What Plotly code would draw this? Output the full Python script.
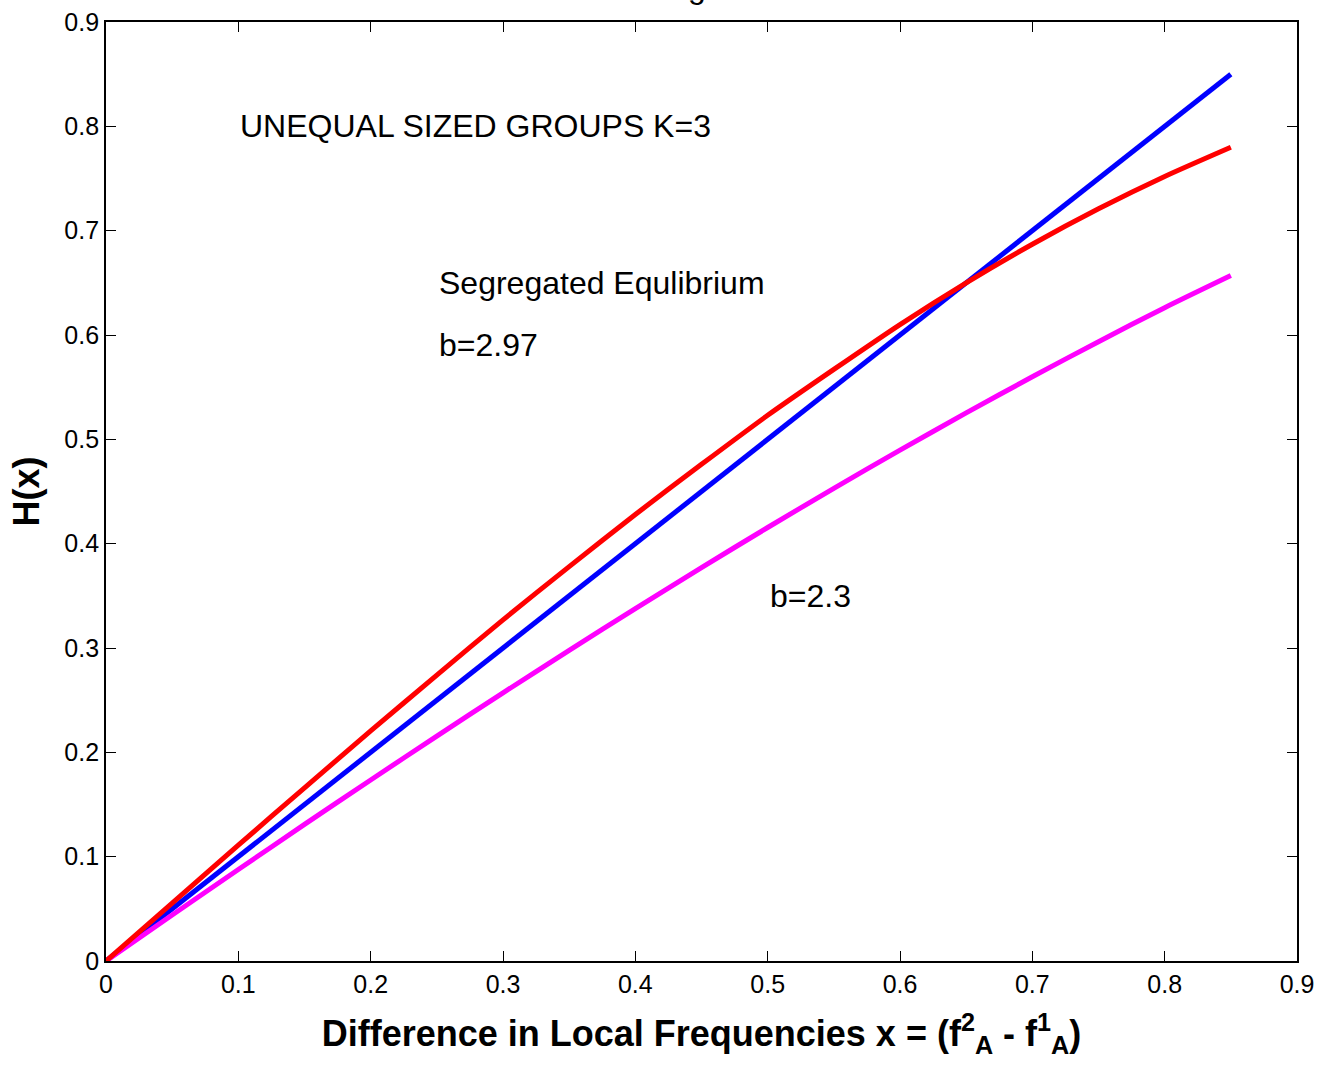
import plotly.graph_objects as go

# x grid (difference in local frequencies)
x_vals = [0, 0.05, 0.1, 0.15, 0.2, 0.25, 0.3, 0.35, 0.4, 0.45, 0.5, 0.55, 0.6, 0.65, 0.7, 0.75, 0.8, 0.85]
# 45-degree line H(x) = x
blue_x = [0, 0.85]
blue_y = [0, 0.85]
# b = 2.97 (segregated equilibrium)
red_y = [0, 0.0555, 0.111, 0.166, 0.2205, 0.274, 0.327, 0.378, 0.428, 0.476, 0.523, 0.567, 0.610, 0.650, 0.687, 0.721, 0.752, 0.780]
# b = 2.3
magenta_y = [0, 0.0441, 0.0877, 0.1309, 0.1735, 0.2156, 0.2570, 0.2978, 0.3378, 0.3771, 0.4155, 0.4530, 0.4897, 0.5253, 0.5600, 0.5936, 0.6262, 0.657]

tick_vals = [0, 0.1, 0.2, 0.3, 0.4, 0.5, 0.6, 0.7, 0.8, 0.9]
tick_text = ["0", "0.1", "0.2", "0.3", "0.4", "0.5", "0.6", "0.7", "0.8", "0.9"]

font_family = "Liberation Sans, Arial, Helvetica, sans-serif"

fig = go.Figure()
fig.add_trace(go.Scatter(x=blue_x, y=blue_y, mode="lines",
                         line=dict(color="#0000FF", width=5), showlegend=False))
fig.add_trace(go.Scatter(x=x_vals, y=magenta_y, mode="lines",
                         line=dict(color="#FF00FF", width=5, shape="spline", smoothing=0.6),
                         showlegend=False))
fig.add_trace(go.Scatter(x=x_vals, y=red_y, mode="lines",
                         line=dict(color="#FF0000", width=5, shape="spline", smoothing=0.6),
                         showlegend=False))

axis_common = dict(
    range=[0, 0.9], tickvals=tick_vals, ticktext=tick_text,
    ticks="inside", ticklen=10, tickwidth=1.3, tickcolor="black",
    showline=True, linecolor="black", linewidth=1.8, mirror="ticks",
    showgrid=False, zeroline=False, automargin=False,
    tickfont=dict(family=font_family, size=25, color="black"),
)

fig.update_xaxes(**axis_common,
                 title=dict(text="<b>Difference in Local Frequencies x = (f<sup>2</sup><sub>A</sub> - f<sup>1</sup><sub>A</sub>)</b>",
                            font=dict(family=font_family, size=36, color="black"), standoff=24))
fig.update_yaxes(**axis_common,
                 title=dict(text="<b>H(x)</b>",
                            font=dict(family=font_family, size=36, color="black"), standoff=14))

ann_font = dict(family=font_family, size=32, color="black")
annotations = [
    dict(x=0.1, y=0.8, text="UNEQUAL SIZED GROUPS K=3"),
    dict(x=0.25, y=0.65, text="Segregated Equlibrium"),
    dict(x=0.25, y=0.59, text="b=2.97"),
    dict(x=0.5, y=0.35, text="b=2.3"),
]
for a in annotations:
    fig.add_annotation(x=a["x"], y=a["y"], xref="x", yref="y", text=a["text"],
                       showarrow=False, xanchor="left", yanchor="middle", font=ann_font)

# title remnant (mostly cut off at the top of the page)
fig.add_annotation(x=0.4962, y=1.037, xref="paper", yref="paper", text="g",
                   showarrow=False, xanchor="center", yanchor="middle", font=ann_font)

fig.update_layout(
    width=1320, height=1070,
    margin=dict(l=106, r=23, t=22, b=109),
    paper_bgcolor="white", plot_bgcolor="white",
)

fig.write_html("out.html")
